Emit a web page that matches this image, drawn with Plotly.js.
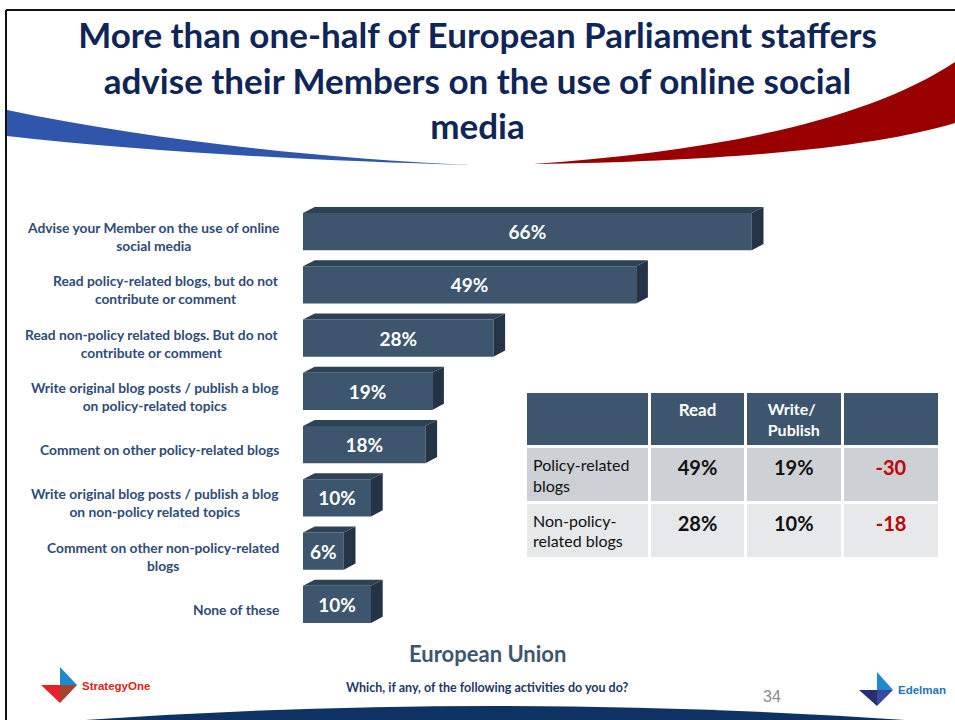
<!DOCTYPE html>
<html>
<head>
<meta charset="utf-8">
<script src="https://cdn.plot.ly/plotly-3.0.1.min.js"></script>
<style>html,body{margin:0;padding:0;background:#fff;}#chart{width:955px;height:720px;}</style>
</head>
<body>
<div id="chart"></div>
<script>
// ---- data ----
const categories = [
  "Advise your Member on the use of online<br>social media",
  "Read policy-related blogs, but do not<br>contribute or comment",
  "Read non-policy related blogs. But do not<br>contribute or comment",
  "Write original blog posts / publish a blog<br>on policy-related topics",
  "Comment on other policy-related blogs",
  "Write original blog posts / publish a blog<br>on non-policy related topics",
  "Comment on other non-policy-related<br>blogs",
  "None of these"
];
const values = [66, 49, 28, 19, 18, 10, 6, 10];

const tableHeader = ["", "Read", "Write/<br>Publish", ""];
const tableRowLabels = ["Policy-related<br>blogs", "Non-policy-<br>related blogs"];
const readVals = ["49%", "28%"];
const writeVals = ["19%", "10%"];
const diffVals = ["-30", "-18"];

const titleText = "More than one-half of European Parliament staffers<br>advise their Members on the use of online social<br>media";
const regionText = "European Union";
const questionText = "Which, if any, of the following activities do you do?";
const pageNumber = "34";

// ---- layout helpers ----
const W = 955, H = 720;
const px = x => x / W;
const py = y => 1 - y / H;
function pathPx(cmds) {
  return cmds.map(c => {
    const l = c[0]; const nums = c.slice(1);
    let s = l;
    for (let i = 0; i < nums.length; i += 2) s += " " + px(nums[i]).toFixed(5) + "," + py(nums[i + 1]).toFixed(5);
    return s;
  }).join(" ");
}

const idx = categories.map((_, i) => i);
const barW = 0.695;
const dX = 1.72;   // depth in % units
const dY = 0.113;  // depth in category units

// 3D faces from data
const topX = [], topY = [], sideX = [], sideY = [];
values.forEach((v, i) => {
  const t = i - barW / 2, b = i + barW / 2;
  topX.push(0, v, v + dX, dX, 0, null);
  topY.push(t, t, t - dY, t - dY, t, null);
  sideX.push(v, v + dX, v + dX, v, v, null);
  sideY.push(t, t - dY, b - dY, b, t, null);
});

const FONT = "Lato, 'Open Sans', sans-serif";
const NARROW = "'Liberation Sans Narrow', 'Liberation Sans', sans-serif";

const traces = [
  {
    type: "bar", orientation: "h", x: values, y: idx, width: barW,
    marker: { color: "#3d566e", line: { width: 0 } },
    text: values.map(v => "<b>" + v + "%</b>"),
    textposition: "inside", insidetextanchor: "middle", constraintext: "none",
    textfont: { color: "#ffffff", size: 19, family: FONT },
    hoverinfo: "skip", showlegend: false
  },
  {
    type: "scatter", mode: "lines", x: topX, y: topY, fill: "toself",
    fillcolor: "#2e4256", line: { width: 0, color: "#2e4256" },
    hoverinfo: "skip", showlegend: false
  },
  {
    type: "scatter", mode: "lines", x: sideX, y: sideY, fill: "toself",
    fillcolor: "#243446", line: { width: 0, color: "#243446" },
    hoverinfo: "skip", showlegend: false
  },
  {
    type: "table",
    domain: { x: [px(525), px(940)], y: [py(560), py(391)] },
    columnwidth: [121, 93, 94, 95],
    header: {
      values: tableHeader.map(h => h ? "<b>" + h + "</b>" : ""),
      fill: { color: "#3d566e" },
      line: { color: "#ffffff", width: 3 },
      align: "center", height: 51,
      font: { family: FONT, size: [16, 17, 16, 16], color: "#ffffff" }
    },
    cells: {
      values: [
        tableRowLabels,
        readVals.map(v => "<b>" + v + "</b>"),
        writeVals.map(v => "<b>" + v + "</b>"),
        diffVals.map(v => "<b>" + v + "</b>")
      ],
      fill: { color: [0, 1, 2, 3].map(() => ["#cdd0d4", "#e7e8ea"]) },
      line: { color: "#ffffff", width: 3 },
      align: ["left", "center", "center", "center"],
      height: 52,
      font: { family: FONT, size: [16, 20, 20, 20], color: ["#111111", "#111111", "#111111", "#c00000"] }
    }
  }
];

const annotations = categories.map((c, i) => ({
  text: "<b>" + c + "</b>", x: px(281), xref: "paper", xanchor: "right",
  y: i, yref: "y", yanchor: "middle", yshift: -5, align: "center", showarrow: false,
  font: { family: FONT, size: 13.8, color: "#2f4b78" }
}));
annotations.push(
  { text: "<b>" + regionText + "</b>", x: px(487), y: py(653), xref: "paper", yref: "paper",
    xanchor: "center", yanchor: "middle", showarrow: false, font: { family: FONT, size: 22, color: "#3d566e" } },
  { text: "<b>" + questionText + "</b>", x: px(487), y: py(687), xref: "paper", yref: "paper",
    xanchor: "center", yanchor: "middle", showarrow: false, font: { family: FONT, size: 12.5, color: "#1f3864" } },
  { text: pageNumber, x: px(772), y: py(696), xref: "paper", yref: "paper",
    xanchor: "center", yanchor: "middle", showarrow: false, font: { family: NARROW, size: 16, color: "#8c8c8c" } },
  { text: "<b>StrategyOne</b>", x: px(80), y: py(686), xref: "paper", yref: "paper",
    xanchor: "left", yanchor: "middle", showarrow: false, font: { family: NARROW, size: 11.5, color: "#e2231a" } },
  { text: "<b>Edelman</b>", x: px(896), y: py(690), xref: "paper", yref: "paper",
    xanchor: "left", yanchor: "middle", showarrow: false, font: { family: NARROW, size: 11.5, color: "#1b75bc" } }
);

const shapes = [
  // frame
  { type: "line", xref: "paper", yref: "paper", x0: px(6), x1: px(955), y0: py(10), y1: py(10), line: { color: "#111", width: 2 } },
  { type: "line", xref: "paper", yref: "paper", x0: px(6), x1: px(6), y0: py(10), y1: py(720), line: { color: "#111", width: 2 } },
  // blue swoosh
  { type: "path", xref: "paper", yref: "paper", line: { width: 0 }, fillcolor: "#2f56ab",
    path: pathPx([["M", 7, 110], ["C", 150, 140, 320, 158, 470, 165], ["C", 320, 161, 150, 152, 7, 136], ["Z"]]) },
  // red swoosh
  { type: "path", xref: "paper", yref: "paper", line: { width: 0 }, fillcolor: "#990000",
    path: pathPx([["M", 533, 164], ["C", 700, 152, 860, 125, 955, 62], ["L", 955, 123], ["C", 880, 146, 740, 161, 533, 164], ["Z"]]) },
  // bottom arc
  { type: "path", xref: "paper", yref: "paper", line: { width: 0 }, fillcolor: "#0d3263",
    path: pathPx([["M", 85, 720], ["Q", 495, 692, 905, 720], ["Z"]]) },
  // StrategyOne logo
  { type: "path", xref: "paper", yref: "paper", line: { width: 0 }, fillcolor: "#1e88d0",
    path: pathPx([["M", 60, 667], ["L", 77, 685], ["L", 60, 685], ["Z"]]) },
  { type: "path", xref: "paper", yref: "paper", line: { width: 0 }, fillcolor: "#e8202a",
    path: pathPx([["M", 41, 685], ["L", 60, 685], ["L", 60, 703], ["Z"]]) },
  { type: "path", xref: "paper", yref: "paper", line: { width: 0 }, fillcolor: "#a3432c",
    path: pathPx([["M", 60, 685], ["L", 77, 685], ["L", 60, 703], ["Z"]]) },
  // Edelman logo
  { type: "path", xref: "paper", yref: "paper", line: { width: 0 }, fillcolor: "#1e88d0",
    path: pathPx([["M", 877, 672], ["L", 893, 690], ["L", 877, 690], ["Z"]]) },
  { type: "path", xref: "paper", yref: "paper", line: { width: 0 }, fillcolor: "#27306e",
    path: pathPx([["M", 859, 690], ["L", 877, 690], ["L", 877, 706], ["Z"]]) },
  { type: "path", xref: "paper", yref: "paper", line: { width: 0 }, fillcolor: "#3a4aa0",
    path: pathPx([["M", 877, 690], ["L", 893, 690], ["L", 877, 706], ["Z"]]) }
];

const layout = {
  width: W, height: H,
  margin: { l: 0, r: 0, t: 0, b: 0 },
  paper_bgcolor: "#ffffff", plot_bgcolor: "rgba(0,0,0,0)",
  font: { family: FONT },
  showlegend: false,
  title: {
    text: "<b>" + titleText + "</b>",
    x: 0.5, xanchor: "center", xref: "paper",
    y: py(48), yanchor: "top", yref: "container",
    font: { family: FONT, size: 35, color: "#0f2556" }
  },
  xaxis: { domain: [px(303), px(915)], range: [0, 90], showgrid: false, zeroline: false, showticklabels: false, showline: false, fixedrange: true },
  yaxis: { domain: [py(631), py(205)], range: [7.5, -0.5], showgrid: false, zeroline: false, showticklabels: false, showline: false, fixedrange: true },
  annotations: annotations,
  shapes: shapes
};

Plotly.newPlot("chart", traces, layout, { displayModeBar: false, staticPlot: true });
</script>
</body>
</html>
